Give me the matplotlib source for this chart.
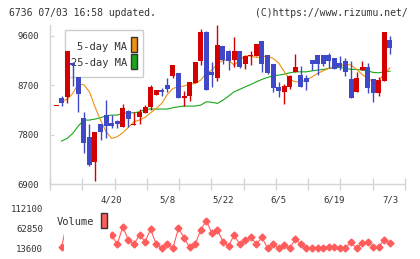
import numpy as np
import matplotlib
matplotlib.use("Agg")
import matplotlib.pyplot as plt
from matplotlib.patches import Rectangle

# daily prices (open, high, low, close)
opens = [8321, 8465, 8490, 9110, 8855, 8097, 7762, 7306, 7988, 8157,
         8017, 8048, 7944, 8230, 7970, 8115, 8188, 8297, 8516, 8613,
         8704, 8868, 8928, 8472, 8497, 8746, 9141, 9669, 8940, 8831,
         9414, 9323, 9153, 9323, 9092, 9232, 9226, 9505, 9250, 9086,
         8667, 8576, 8667, 8940, 8880, 8831, 9165, 9244, 9256, 9256,
         9196, 9104, 9141, 8808, 8576, 8971, 9032, 8808, 8564, 8777,
         9535]
highs = [8321, 8503, 9323, 9120, 8855, 8206, 7990, 7853, 7990, 8430,
         8157, 8060, 8365, 8250, 8217, 8270, 8340, 8704, 8613, 8649,
         8831, 9075, 8928, 8594, 8758, 9123, 9730, 9688, 9123, 9802,
         9414, 9347, 9578, 9323, 9232, 9323, 9451, 9505, 9250, 9086,
         8758, 8727, 8880, 9275, 9050, 8880, 9165, 9244, 9256, 9290,
         9196, 9232, 9196, 9135, 8940, 9141, 9104, 8808, 8850, 9669,
         9597]
lows = [8321, 8321, 8380, 8690, 8217, 7470, 7233, 6960, 7700, 7732,
        7915, 7915, 7944, 7944, 7970, 8000, 8188, 8250, 8516, 8503,
        8576, 8837, 8460, 8321, 8412, 8746, 9062, 8618, 8667, 8777,
        9092, 8983, 9032, 9020, 9002, 9074, 9226, 8940, 8900, 8576,
        8485, 8363, 8630, 8940, 8667, 8607, 8971, 8880, 9050, 9020,
        8995, 8983, 8868, 8473, 8576, 8971, 8564, 8394, 8503, 8777,
        9275]
closes = [8321, 8370, 9323, 9068, 8534, 7642, 7250, 7853, 7853, 7962,
          7962, 7988, 8285, 8090, 7970, 8206, 8308, 8673, 8613, 8582,
          8637, 9075, 8467, 8503, 8758, 9123, 9669, 8618, 8891, 9439,
          9165, 9135, 9323, 9032, 9232, 9232, 9451, 9092, 8928, 8655,
          8594, 8686, 8862, 9032, 8667, 8758, 9092, 9092, 9092, 9147,
          9002, 9026, 8940, 8473, 8831, 9032, 8655, 8564, 8790, 9669,
          9384]

ma5 = [np.nan, 8400, 8450, 8552, 8722, 8710, 8582, 8308, 8066, 7853,
       7732, 7762, 7835, 7933, 8035, 8066, 8115, 8199, 8279, 8370,
       8534, 8643, 8673, 8686, 8722, 8735, 8795, 8917, 8977, 9099,
       9159, 9159, 9068, 9159, 9238, 9232, 9208, 9220, 9232, 9190,
       9110, 8950, 8808, 8764, 8764, 8795, 8855, 8917, 8964, 9008,
       9041, 9050, 9086, 9068, 8990, 8899, 8826, 8764, 8782, 8917,
       9020]
ma25 = [np.nan, 7683, 7732, 7823, 7957, 8066, 8066, 8084, 8108, 8145,
        8157, 8157, 8188, 8199, 8199, 8217, 8261, 8267, 8267, 8267,
        8267, 8291, 8308, 8321, 8321, 8321, 8339, 8400, 8390, 8370,
        8430, 8503, 8582, 8625, 8673, 8716, 8764, 8808, 8844, 8873,
        8886, 8904, 8928, 8946, 8946, 8946, 8964, 8977, 8990, 9008,
        9020, 9026, 9008, 8990, 8990, 8977, 8964, 8935, 8928, 8946,
        8958]

volume = [np.nan, 16000, 80000, 112100, 60000, 75000, 65000, 90000, 45000, 50000,
          46400, 23450, 66960, 34100, 23450, 46400, 30000, 60400, 23450, 13600,
          23450, 13600, 62850, 39900, 16000, 23450, 58800, 81700, 50500, 58800,
          30000, 19300, 46400, 23450, 34100, 40700, 23450, 40700, 13600, 23450,
          13600, 21800, 13600, 36600, 23450, 13600, 13600, 15200, 15200, 17700,
          17700, 15200, 15200, 28400, 13600, 25900, 28400, 17700, 17700, 34100,
          25900]

date_pos = [10, 20, 30, 40, 50, 60]
date_labels = ["4/20", "5/8", "5/22", "6/5", "6/19", "7/3"]
price_ticks = [6900, 7800, 8700, 9600]
vol_ticks = [13600, 62850, 112100]

RED = "#d40000"
BLUE = "#3f48c6"
ORANGE = "#f0900f"
GREEN = "#18a818"
VOLC = "#ff5c5c"
GRID = "#d4d4d4"
TXT = "#333333"
FONT = "DejaVu Sans Mono"

W, H = 420, 259
fig = plt.figure(figsize=(W / 100, H / 100), dpi=100)

x = np.arange(len(opens))
xlim = (-1.08, 62.7)

# price panel
ax = fig.add_axes([50 / W, (H - 184) / H, 355 / W, 159 / H])
ax.set_xlim(*xlim)
ax.set_ylim(6900, 9800)

ax.plot(x, ma25, color=GREEN, lw=0.8, zorder=2)
ax.plot(x, ma5, color=ORANGE, lw=0.8, zorder=2)

o = np.array(opens, float)
c = np.array(closes, float)
colors = [RED if cc >= oo else BLUE for oo, cc in zip(o, c)]
ax.vlines(x, lows, highs, colors=colors, lw=1, zorder=3)
ax.bar(x, np.maximum(np.abs(c - o), 18), bottom=np.minimum(o, c), width=0.9,
       color=colors, linewidth=0, zorder=4)

for s in ["top", "right"]:
    ax.spines[s].set_visible(False)
for s in ["left", "bottom"]:
    ax.spines[s].set_color(GRID)
    ax.spines[s].set_linewidth(1)

ax.set_xticks(np.linspace(xlim[0], xlim[1], 12))
ax.set_xticklabels([])
ax.tick_params(axis="x", which="major", direction="inout", length=8, color=GRID, width=1)
ax.set_xticks(date_pos, minor=True)
ax.set_xticklabels(date_labels, minor=True, fontsize=6.5, color=TXT, family=FONT)
ax.tick_params(axis="x", which="minor", length=0, pad=8)
ax.set_yticks(price_ticks)
ax.set_yticklabels([str(t) for t in price_ticks], fontsize=6.5, color=TXT, family=FONT)
ax.tick_params(axis="y", direction="in", length=3, color=GRID, pad=8)

# legend of the price panel
ax.add_patch(Rectangle((0.042, 0.673), 0.22, 0.296, transform=ax.transAxes,
                       facecolor="white", edgecolor="#cccccc", lw=1, zorder=1))
ax.text(0.217, 0.862, "5-day MA", transform=ax.transAxes, ha="right", va="center",
        fontsize=7.5, color=TXT, family=FONT, zorder=1.5)
ax.text(0.217, 0.761, "25-day MA", transform=ax.transAxes, ha="right", va="center",
        fontsize=7.5, color=TXT, family=FONT, zorder=1.5)
ax.add_patch(Rectangle((0.228, 0.830), 0.017, 0.093, transform=ax.transAxes,
                       facecolor=ORANGE, edgecolor=TXT, lw=1, zorder=1.5))
ax.add_patch(Rectangle((0.228, 0.721), 0.017, 0.096, transform=ax.transAxes,
                       facecolor=GREEN, edgecolor=TXT, lw=1, zorder=1.5))

# volume panel
axv = fig.add_axes([50 / W, (H - 248.3) / H, 355 / W, 40 / H])
axv.set_xlim(*xlim)
axv.set_ylim(13600, 112100)
axv.plot(x, volume, color=VOLC, lw=0.8, marker="D", markersize=3.5, clip_on=False, zorder=2)
for s in axv.spines.values():
    s.set_visible(False)
axv.set_xticks([])
axv.set_yticks(vol_ticks)
axv.set_yticklabels([str(t) for t in vol_ticks], fontsize=6.5, color=TXT, family=FONT)
axv.tick_params(axis="y", length=0, pad=5)

axv.add_patch(Rectangle((0.0394, -0.15), 0.13, 1.27, transform=axv.transAxes,
                        facecolor="white", edgecolor="none", zorder=5, clip_on=False))
axv.text(0.124, 0.657, "Volume", transform=axv.transAxes, ha="right", va="center",
         fontsize=7.5, color=TXT, family=FONT, zorder=6)
axv.add_patch(Rectangle((0.1437, 0.5075), 0.0169, 0.375, transform=axv.transAxes,
                        facecolor=VOLC, edgecolor=TXT, lw=1, zorder=6, clip_on=False))

fig.text(9 / W, 1 - 13 / H, "6736 07/03 16:58 updated.", ha="left", va="center",
         fontsize=7, color=TXT, family=FONT)
fig.text(408 / W, 1 - 13 / H, "(C)https://www.rizumu.net/", ha="right", va="center",
         fontsize=7, color=TXT, family=FONT)

fig.savefig("out.png", dpi=100, facecolor="white")
